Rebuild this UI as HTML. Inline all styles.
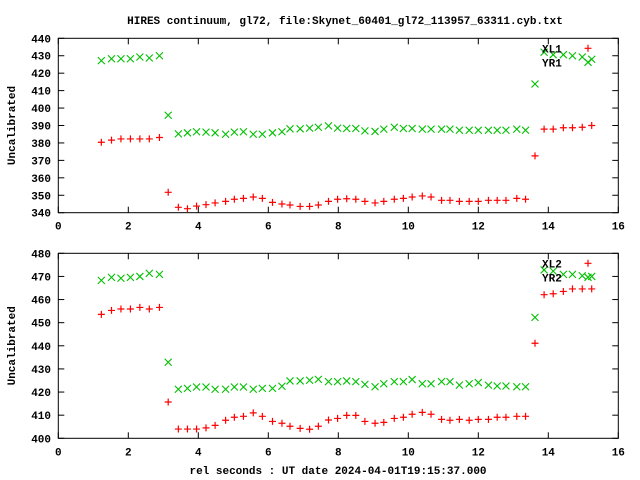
<!DOCTYPE html>
<html><head><meta charset="utf-8"><style>
html,body{margin:0;padding:0;background:#fff;}
svg{display:block;}
text{font-family:"Liberation Mono",monospace;font-weight:bold;font-size:11px;fill:#000;}
</style></head><body>
<svg id="chart" width="640" height="480" xmlns="http://www.w3.org/2000/svg">
<text x="345" y="24" text-anchor="middle">HIRES continuum, gl72, file:Skynet_60401_gl72_113957_63311.cyb.txt</text>
<text x="338" y="474" text-anchor="middle">rel seconds : UT date 2024-04-01T19:15:37.000</text>
<g id="g1"></g>
<g id="g2"></g>
</svg>
<script>
const xs = [1.23,1.52,1.79,2.06,2.33,2.60,2.89,3.14,3.43,3.69,3.95,4.22,4.48,4.78,5.03,5.29,5.57,5.83,6.12,6.39,6.62,6.91,7.18,7.43,7.72,7.98,8.24,
8.50,8.76,9.05,9.30,9.60,9.86,10.11,10.40,10.65,10.95,11.19,11.46,11.74,12.0,12.29,12.54,12.79,13.10,13.35,13.62,13.88,14.14,14.43,14.69,14.97,15.24];
const xl1 = [380.4,381.6,382.3,382.3,382.3,382.3,383.1,351.7,343.1,342.3,343.8,344.6,345.6,346.5,347.7,348.2,349,348.2,345.9,345,344.4,343.6,343.6,344.4,346.5,347.7,348,
347.7,346.5,345.6,346.5,347.7,348.2,349,349.6,349,347.1,347.1,346.5,346.5,346.5,347.1,347.1,347.1,348.2,347.7,372.6,387.9,387.9,388.7,388.7,389,390];
const yr1 = [427.2,428.3,428.3,428.3,429.3,428.7,430,395.9,385.2,385.8,386.4,386.2,385.8,385,386.2,386.4,385,385,385.8,386.4,388.1,388.1,388.5,389,389.8,388.5,388.3,
388.3,386.9,386.6,387.9,389,388.3,388.3,387.9,387.9,387.9,387.9,387.3,387.3,387.3,387.3,387.3,387.3,387.9,387.3,413.8,432,430.6,430.6,430,429.3,428];
const xl2 = [453.6,455.3,455.9,455.9,456.6,455.9,456.6,415.7,404,404,404,404.5,405.6,407.8,409.1,409.5,411,409.5,407.3,406.5,405.2,404.3,403.9,405.2,407.9,408.6,409.9,
409.9,407.3,406.5,406.9,408.6,409.1,410.4,411.2,410.4,408.2,407.8,408.2,407.8,408.2,408.2,409.1,409.1,409.5,409.5,441.1,462.1,462.5,463.5,464.6,464.6,464.6];
const yr2 = [468.3,469.6,469.2,469.6,470,471.3,470.9,432.9,421.2,421.6,422.2,422.2,421.2,421.2,422.2,422.2,421.2,421.6,421.6,422.5,424.8,424.8,425.1,425.5,424.5,424.5,424.8,
424.5,423.3,422.3,423.6,424.5,424.5,425.4,423.6,423.6,424.5,424.5,423,423.6,424.1,423,422.6,422.6,422.3,422.3,452.3,472.8,472.3,470.9,470.9,470.3,470];
const xTicks = [0,2,4,6,8,10,12,14,16];
const yTicks1 = [340,350,360,370,380,390,400,410,420,430,440];
const yTicks2 = [400,410,420,430,440,450,460,470,480];
const NS="http://www.w3.org/2000/svg";
function mk(parent, tag, attrs){const e=document.createElementNS(NS,tag);for(const k in attrs)e.setAttribute(k,attrs[k]);parent.appendChild(e);return e;}
function panel(g, top, bottom, ymin, ymax, yTicks, red, green, lr, lg){
  const L=58.3,R=618.3;
  const X=v=>L+(v-0)/16*(R-L);
  const Y=v=>bottom-(v-ymin)/(ymax-ymin)*(bottom-top);
  const fr=mk(g,'rect',{x:L,y:top,width:R-L,height:bottom-top,fill:'none',stroke:'#000','stroke-width':1});
  
  
  xTicks.forEach(t=>{
    const x=X(t);
    mk(g,'line',{x1:x,y1:bottom,x2:x,y2:bottom-6,stroke:'#000'});
    mk(g,'line',{x1:x,y1:top,x2:x,y2:top+6,stroke:'#000'});
    const tx=mk(g,'text',{x:x,y:bottom+17,'text-anchor':'middle'});tx.textContent=t;
    
    
  });
  yTicks.forEach(t=>{
    const y=Y(t);
    mk(g,'line',{x1:L,y1:y,x2:L+6,y2:y,stroke:'#000'});
    mk(g,'line',{x1:R,y1:y,x2:R-6,y2:y,stroke:'#000'});
    const tx=mk(g,'text',{x:51,y:y+4,'text-anchor':'end'});tx.textContent=t;
    
    
  });
  const yl=mk(g,'text',{x:0,y:0,'text-anchor':'middle',transform:`translate(15,${(top+bottom)/2}) rotate(-90)`});
  yl.textContent='Uncalibrated';
  
  
  function plus(x,y,name){const p=mk(g,'path',{d:`M${x-3.5},${y}h7M${x},${y-3.5}v7`,stroke:'#f00','stroke-width':1.2,fill:'none'});
    
    }
  function cross(x,y,name){const p=mk(g,'path',{d:`M${x-3.5},${y-3.5}l7,7M${x-3.5},${y+3.5}l7,-7`,stroke:'#00c000','stroke-width':1.1,fill:'none'});
    
    }
  red.forEach((v,i)=>plus(X(xs[i]),Y(v),'xl-point'));
  green.forEach((v,i)=>cross(X(xs[i]),Y(v),'yr-point'));
  const t1=mk(g,'text',{x:542,y:top+14});t1.textContent=lr;
  
  
  const t2=mk(g,'text',{x:542,y:top+28});t2.textContent=lg;
  
  
  plus(588,top+10,'legend-marker-xl');
  cross(588,top+24,'legend-marker-yr');
}
panel(document.getElementById('g1'),38.3,212.7,340,440,yTicks1,xl1,yr1,'XL1','YR1');
panel(document.getElementById('g2'),253.3,438.3,400,480,yTicks2,xl2,yr2,'XL2','YR2');
</script>
</body></html>
